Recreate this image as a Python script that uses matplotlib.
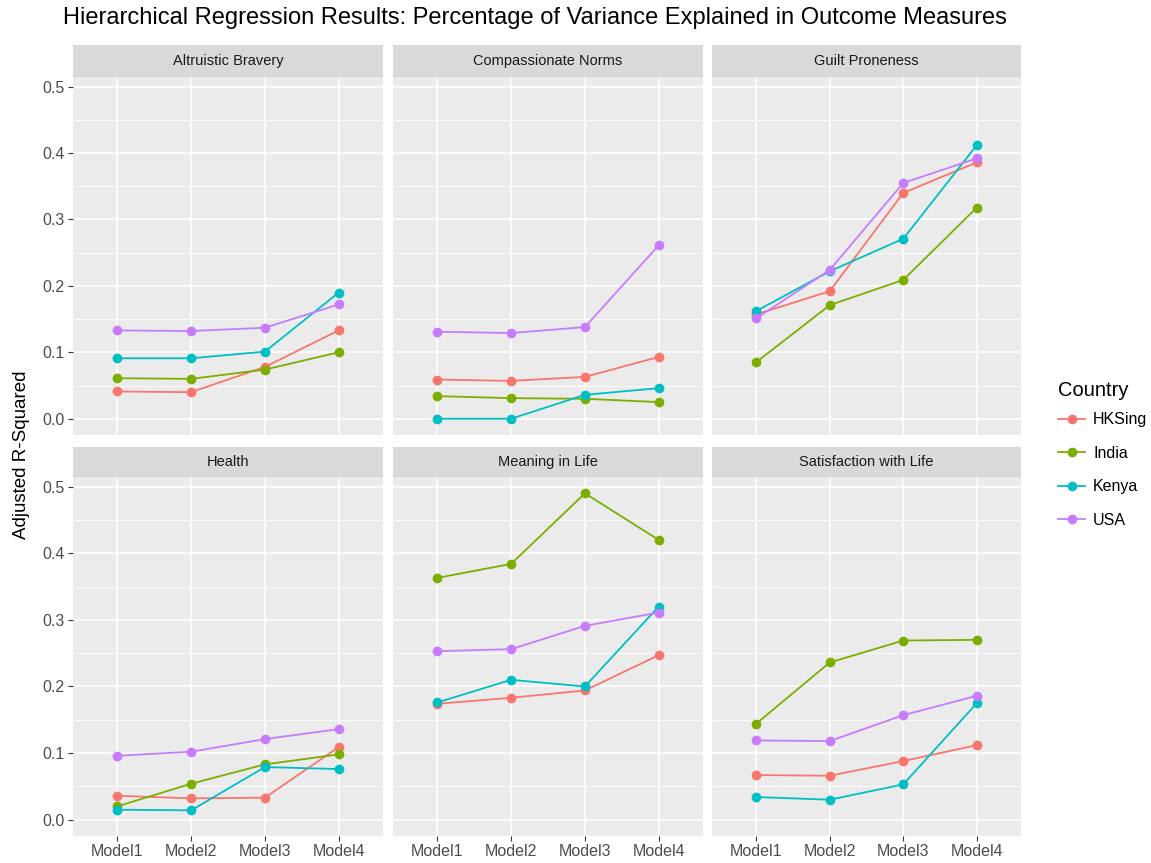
import numpy as np
import matplotlib
matplotlib.use("Agg")
import matplotlib.pyplot as plt
from matplotlib.ticker import MultipleLocator

plt.rcParams["font.family"] = ["Liberation Sans", "DejaVu Sans"]

models = ["Model1", "Model2", "Model3", "Model4"]
countries = ["HKSing", "India", "Kenya", "USA"]
colors = ["#F8766D", "#7CAE00", "#00BFC4", "#C77CFF"]
outcomes = ["Altruistic Bravery", "Compassionate Norms", "Guilt Proneness",
            "Health", "Meaning in Life", "Satisfaction with Life"]

# adjusted R-squared per outcome, rows = countries (HKSing, India, Kenya, USA)
altruistic_bravery = [[0.041, 0.040, 0.078, 0.133],
                      [0.061, 0.060, 0.074, 0.100],
                      [0.091, 0.091, 0.101, 0.190],
                      [0.133, 0.132, 0.137, 0.172]]
compassionate_norms = [[0.059, 0.057, 0.063, 0.093],
                       [0.034, 0.031, 0.030, 0.025],
                       [0.000, 0.000, 0.036, 0.046],
                       [0.131, 0.129, 0.138, 0.261]]
guilt_proneness = [[0.157, 0.192, 0.340, 0.386],
                   [0.085, 0.171, 0.209, 0.318],
                   [0.162, 0.222, 0.271, 0.412],
                   [0.151, 0.224, 0.355, 0.392]]
health = [[0.036, 0.032, 0.033, 0.109],
          [0.020, 0.054, 0.083, 0.098],
          [0.015, 0.014, 0.079, 0.076],
          [0.096, 0.102, 0.121, 0.136]]
meaning_in_life = [[0.174, 0.183, 0.194, 0.247],
                   [0.363, 0.384, 0.490, 0.420],
                   [0.176, 0.210, 0.200, 0.320],
                   [0.253, 0.256, 0.291, 0.311]]
satisfaction_with_life = [[0.067, 0.066, 0.088, 0.112],
                          [0.144, 0.236, 0.269, 0.270],
                          [0.034, 0.030, 0.053, 0.175],
                          [0.119, 0.118, 0.157, 0.186]]

panel_data = [altruistic_bravery, compassionate_norms, guilt_proneness,
              health, meaning_in_life, satisfaction_with_life]

W, H = 1151, 863
fig = plt.figure(figsize=(W / 100, H / 100), dpi=100)


def box(x0, y0, x1, y1):
    return [x0 / W, 1 - y1 / H, (x1 - x0) / W, (y1 - y0) / H]


col_x = [(73, 383), (393, 703), (712, 1021)]
row_y = [(45, 77, 435), (447, 477, 836)]
x = np.arange(len(models))

lines = []
for i, (name, data) in enumerate(zip(outcomes, panel_data)):
    r, c = divmod(i, 3)
    x0, x1 = col_x[c]
    s0, p0, p1 = row_y[r]

    strip = fig.add_axes(box(x0, s0, x1, p0))
    strip.set_facecolor("#D9D9D9")
    strip.set_xticks([])
    strip.set_yticks([])
    for sp in strip.spines.values():
        sp.set_visible(False)
    strip.text(0.5, 0.5, name, ha="center", va="center", fontsize=10.5,
               color="#1A1A1A", transform=strip.transAxes)

    ax = fig.add_axes(box(x0, p0, x1, p1))
    ax.set_facecolor("#EBEBEB")
    for sp in ax.spines.values():
        sp.set_visible(False)
    ax.set_xlim(-0.6, 3.6)
    ax.set_ylim(-0.0245, 0.5145)
    ax.yaxis.set_major_locator(MultipleLocator(0.1))
    ax.yaxis.set_minor_locator(MultipleLocator(0.05))
    ax.set_xticks(x)
    ax.grid(True, which="major", color="white", linewidth=1.1)
    ax.grid(True, which="minor", axis="y", color="white", linewidth=0.55)
    ax.set_axisbelow(True)
    ax.tick_params(which="minor", length=0)
    ax.tick_params(which="major", length=3.5, width=0.8, color="#333333",
                   labelsize=11.5, labelcolor="#4D4D4D", pad=2.5)

    for vals, color, country in zip(data, colors, countries):
        ln, = ax.plot(x, vals, color=color, linewidth=1.3, marker="o",
                      markersize=6, label=country)
        if i == 0:
            lines.append(ln)

    if c == 0:
        ax.yaxis.set_major_formatter(plt.FuncFormatter(lambda v, p: f"{v:.1f}"))
    else:
        ax.tick_params(axis="y", length=0, labelleft=False)
    if r == 1:
        ax.set_xticklabels(models)
    else:
        ax.tick_params(axis="x", length=0, labelbottom=False)

fig.text(63 / W, 1 - 18 / H, "Hierarchical Regression Results: Percentage of Variance Explained in Outcome Measures",
         fontsize=17, color="black", ha="left", va="center")
fig.text(22 / W, 1 - 455 / H, "Adjusted R-Squared", rotation=90, fontsize=13.5,
         ha="center", va="center", color="black")

leg = fig.legend(handles=lines, labels=countries, title="Country",
                 loc="upper left", bbox_to_anchor=(1050 / W, 1 - 373 / H),
                 frameon=False, fontsize=11.5, title_fontsize=14.5,
                 borderpad=0, handlelength=1.7, handletextpad=0.5,
                 labelspacing=1.15)
leg._legend_box.align = "left"
leg._legend_box.sep = 9

fig.savefig("out.png", dpi=100)
